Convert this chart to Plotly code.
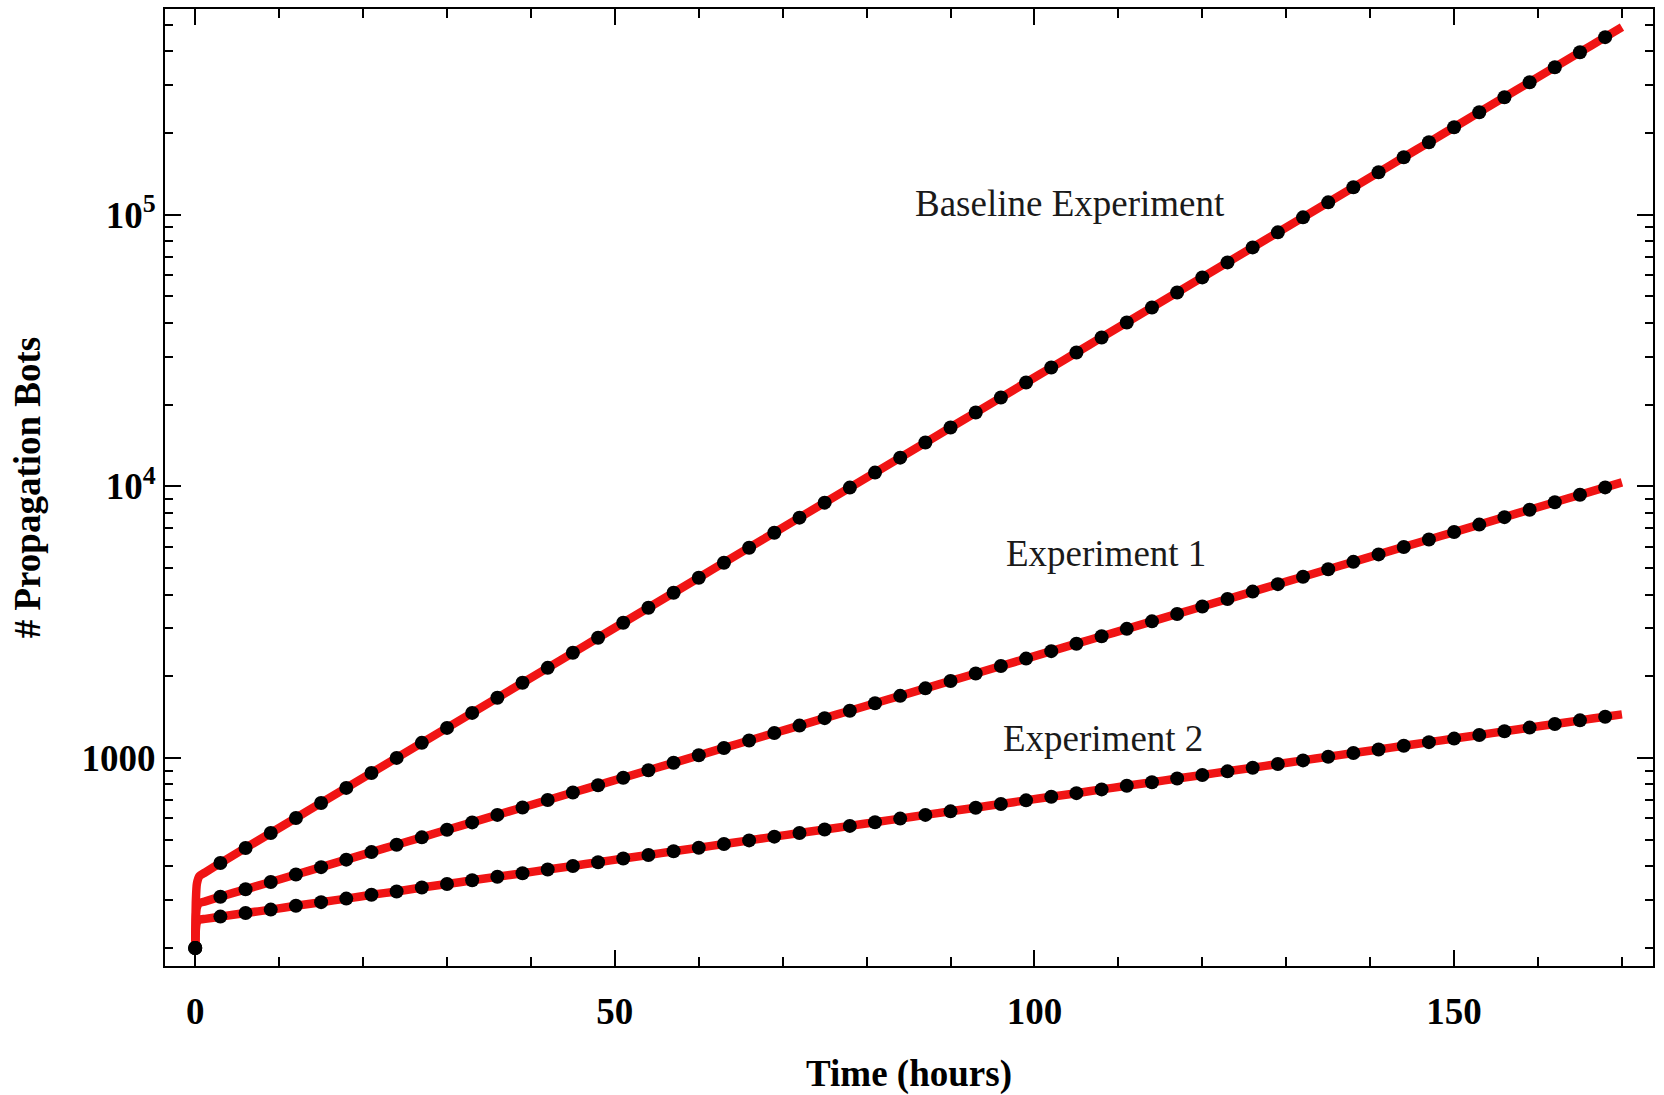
import math
import plotly.graph_objects as go

# ---- data ----
hours = [0, 3, 6, 9, 12, 15, 18, 21, 24, 27, 30, 33, 36, 39, 42, 45, 48, 51, 54, 57,
         60, 63, 66, 69, 72, 75, 78, 81, 84, 87, 90, 93, 96, 99, 102, 105, 108, 111,
         114, 117, 120, 123, 126, 129, 132, 135, 138, 141, 144, 147, 150, 153, 156,
         159, 162, 165, 168]

baseline = [200, 411, 467, 530, 602, 684, 777, 882, 1002, 1138, 1292, 1467, 1667, 1893,
            2149, 2441, 2773, 3149, 3576, 4061, 4612, 5239, 5948, 6756, 7672, 8713, 9897,
            11240, 12760, 14500, 16470, 18700, 21230, 24120, 27380, 31100, 35330, 40120,
            45570, 51740, 58770, 66750, 75790, 86090, 97750, 111000, 126100, 143200,
            162700, 184700, 209800, 238300, 270600, 307300, 349000, 396300, 450100]

experiment1 = [200, 309, 329, 350, 373, 397, 423, 451, 480, 511, 545, 580, 618, 658, 701,
               747, 795, 847, 902, 961, 1024, 1090, 1161, 1237, 1317, 1403, 1494, 1592,
               1695, 1806, 1923, 2048, 2182, 2324, 2475, 2637, 2808, 2991, 3186, 3393,
               3614, 3849, 4100, 4367, 4652, 4955, 5277, 5621, 5987, 6377, 6792, 7234,
               7705, 8207, 8741, 9311, 9917]

experiment2 = [200, 261, 269, 277, 286, 295, 304, 314, 323, 334, 344, 355, 366, 377, 389,
               401, 414, 427, 440, 454, 468, 483, 498, 514, 530, 546, 563, 581, 599, 618,
               637, 657, 678, 699, 721, 743, 767, 791, 815, 841, 867, 894, 922, 951, 981,
               1012, 1044, 1076, 1110, 1145, 1180, 1217, 1255, 1295, 1335, 1377, 1420]

# continuous model curve: fast initial transient and final point
transient_hours = [0, 0.08, 0.2, 0.5, 1.2]
baseline_transient = [200, 300, 345, 368, 380]
experiment1_transient = [200, 260, 282, 293, 297]
experiment2_transient = [200, 235, 248, 254, 256]
end_hour = 170
baseline_end = 489800
experiment1_end = 10340
experiment2_end = 1449

labels = ["Baseline Experiment", "Experiment 1", "Experiment 2"]
label_x = [104.2, 108.5, 108.2]
label_y = [110300, 5667, 1180]

x_major = [0, 50, 100, 150]
x_minor = [10, 20, 30, 40, 60, 70, 80, 90, 110, 120, 130, 140, 160, 170]
y_major = [1000, 10000, 100000]
y_major_text = ["1000", "10<sup>4</sup>", "10<sup>5</sup>"]
y_minor = [200, 300, 400, 500, 600, 700, 800, 900,
           2000, 3000, 4000, 5000, 6000, 7000, 8000, 9000,
           20000, 30000, 40000, 50000, 60000, 70000, 80000, 90000,
           200000, 300000, 400000, 500000]

# ---- figure ----
FONT = "Liberation Serif, Times New Roman, serif"
RED = "#f01414"

fig = go.Figure()

series = [
    (baseline, baseline_transient, baseline_end),
    (experiment1, experiment1_transient, experiment1_end),
    (experiment2, experiment2_transient, experiment2_end),
]

for vals, trans, end in series:
    fig.add_trace(go.Scatter(
        x=transient_hours + hours[1:] + [end_hour],
        y=trans + vals[1:] + [end],
        mode="lines",
        line=dict(color=RED, width=8.5, shape="spline", smoothing=0.6),
        hoverinfo="skip", showlegend=False,
    ))

for vals in [baseline, experiment1, experiment2]:
    fig.add_trace(go.Scatter(
        x=hours, y=vals, mode="markers",
        marker=dict(color="black", size=14, line=dict(width=0)),
        showlegend=False,
    ))

# annotation positions on a log axis are given in log10 units
for txt, lx, ly in zip(labels, label_x, label_y):
    fig.add_annotation(x=lx, y=math.log10(ly), yref="y", xref="x", text=txt,
                       showarrow=False,
                       font=dict(family=FONT, size=37, color="#1a1a1a"),
                       xanchor="center", yanchor="middle")

axis_common = dict(
    showline=True, linecolor="black", linewidth=2, mirror="allticks",
    ticks="inside", tickcolor="black", tickwidth=1.5,
    showgrid=False, zeroline=False,
    tickfont=dict(family=FONT, size=37, color="black", weight="bold"),
)

fig.update_xaxes(
    **axis_common,
    range=[-3.6, 173.7],
    tickmode="array", tickvals=x_major, ticktext=[str(v) for v in x_major],
    ticklen=16,
    minor=dict(tickmode="array", tickvals=x_minor, ticks="inside", ticklen=9,
               tickcolor="black", tickwidth=1.5, showgrid=False),
    ticklabelstandoff=12,
    title=dict(text="Time (hours)", standoff=30,
               font=dict(family=FONT, size=37, color="black", weight="bold")),
)

fig.update_yaxes(
    **axis_common,
    type="log",
    range=[2.2349, 5.757],
    tickmode="array", tickvals=y_major, ticktext=y_major_text,
    ticklen=16,
    minor=dict(tickmode="array", tickvals=y_minor, ticks="inside", ticklen=8,
               tickcolor="black", tickwidth=1.5, showgrid=False),
    ticklabelstandoff=0,
    title=dict(text="# Propagation Bots", standoff=30,
               font=dict(family=FONT, size=37, color="black", weight="bold")),
)

fig.update_layout(
    width=1664, height=1095,
    margin=dict(l=165, r=11, t=7, b=128),
    paper_bgcolor="white", plot_bgcolor="white",
    showlegend=False,
)

fig.write_html("out.html")
